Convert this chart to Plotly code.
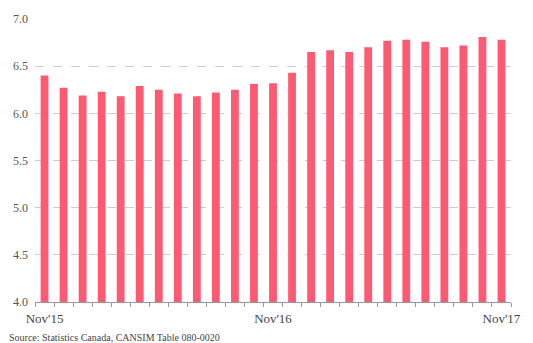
import plotly.graph_objects as go

months = ["Nov'15", "Dec'15", "Jan'16", "Feb'16", "Mar'16", "Apr'16", "May'16", "Jun'16",
          "Jul'16", "Aug'16", "Sep'16", "Oct'16", "Nov'16", "Dec'16", "Jan'17", "Feb'17",
          "Mar'17", "Apr'17", "May'17", "Jun'17", "Jul'17", "Aug'17", "Sep'17", "Oct'17", "Nov'17"]
values = [6.40, 6.27, 6.19, 6.23, 6.18, 6.29, 6.25, 6.21, 6.18, 6.22, 6.25, 6.31, 6.32,
          6.43, 6.65, 6.67, 6.65, 6.70, 6.77, 6.78, 6.76, 6.70, 6.72, 6.81, 6.78]
shown_labels = ["Nov'15", "Nov'16", "Nov'17"]
y_ticks = [4.0, 4.5, 5.0, 5.5, 6.0, 6.5, 7.0]
source = "Source: Statistics Canada, CANSIM Table 080-0020"

ticktext = [m if m in shown_labels else "" for m in months]

fig = go.Figure(go.Bar(x=months, y=values, marker=dict(color="#ff5a74", line=dict(width=0)),
                       hoverinfo="x+y"))

font_family = "Liberation Serif, DejaVu Serif, serif"

fig.update_layout(
    width=533, height=343,
    margin=dict(l=35, r=14, t=17, b=41),
    paper_bgcolor="white", plot_bgcolor="white",
    bargap=0.59,
    showlegend=False,
    font=dict(family=font_family, size=12, color="#555555"),
    xaxis=dict(
        type="category",
        tickmode="array", tickvals=months, ticktext=ticktext,
        tickson="boundaries",
        ticks="outside", ticklen=4, tickcolor="#999999", tickwidth=1,
        showline=True, linecolor="#999999", linewidth=1,
        showgrid=False,
        tickangle=0,
        ticklabelstandoff=4,
        tickfont=dict(size=13, color="#444444"),
        range=[-0.5, 24.5],
    ),
    yaxis=dict(
        range=[4.0, 7.0],
        tickmode="array", tickvals=y_ticks, ticktext=[f"{v:.1f}" for v in y_ticks],
        showgrid=True, gridcolor="#cccccc", griddash="dash", gridwidth=1,
        zeroline=False, showline=False,
        ticks="", ticklabelstandoff=6,
        tickfont=dict(size=12, color="#555555"),
    ),
    annotations=[dict(text=source, xref="paper", yref="paper", x=-0.058, y=-0.098,
                      xanchor="left", yanchor="top", showarrow=False,
                      font=dict(size=10, color="#444444", family=font_family))],
)

fig.write_html("out.html")
